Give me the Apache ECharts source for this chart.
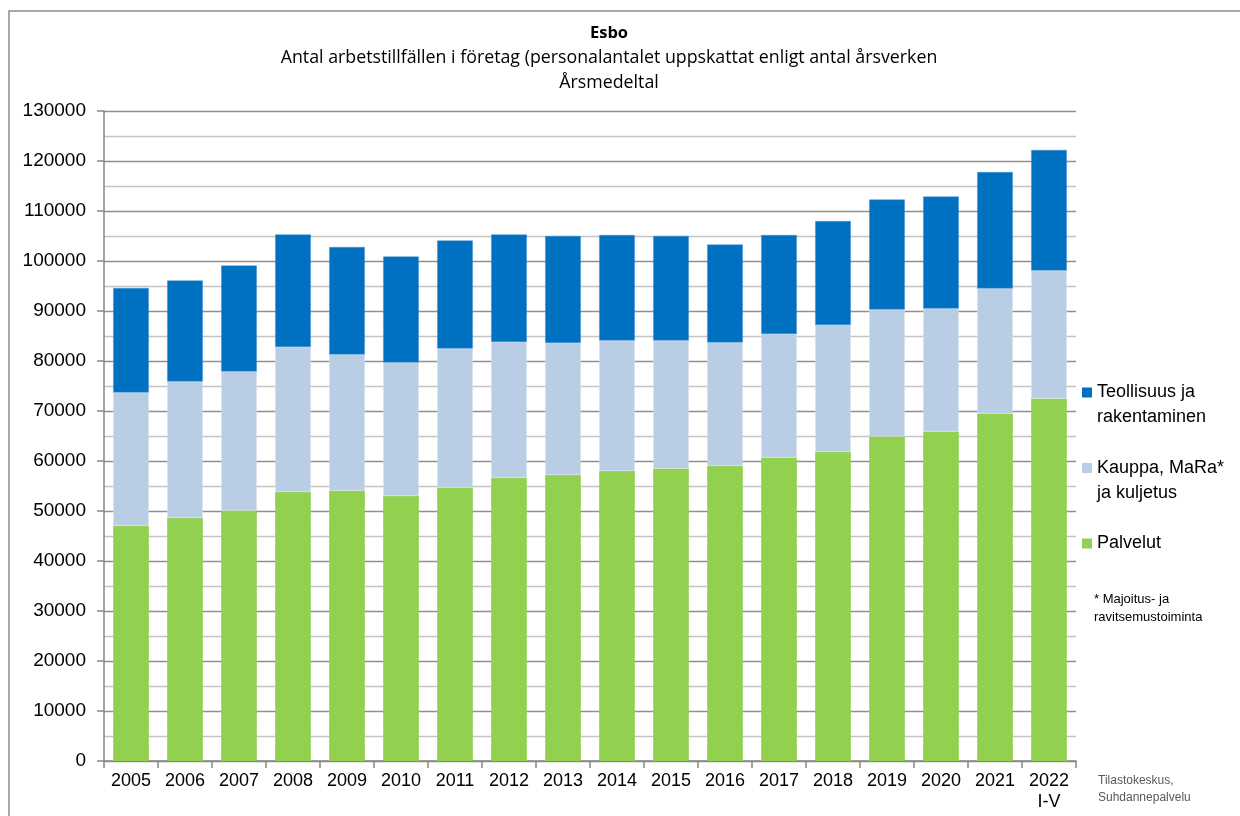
<!DOCTYPE html>
<html>
<head>
<meta charset="utf-8">
<title>Esbo</title>
<script src="https://cdn.jsdelivr.net/npm/echarts@6/dist/echarts.min.js"></script>
<style>
  html, body { margin: 0; padding: 0; background: #fff; }
  #chart { width: 1240px; height: 816px; }
</style>
</head>
<body>
<div id="chart"></div>
<script>
// data
const years = ['2005', '2006', '2007', '2008', '2009', '2010', '2011', '2012', '2013',
  '2014', '2015', '2016', '2017', '2018', '2019', '2020', '2021', '2022\nI-V'];
const palvelut = [47000, 48600, 50100, 53800, 54100, 53000, 54700, 56600, 57200,
  58000, 58500, 59000, 60700, 61800, 64900, 65900, 69500, 72500];
const kauppa = [26700, 27300, 27800, 29000, 27200, 26700, 27800, 27200, 26400,
  26100, 25600, 24700, 24700, 25400, 25400, 24600, 25000, 25600];
const teollisuus = [20900, 20200, 21200, 22500, 21500, 21200, 21600, 21500, 21400,
  21100, 20900, 19600, 19800, 20800, 22000, 22400, 23300, 24100];

const names = {
  teo: 'Teollisuus ja\nrakentaminen',
  kau: 'Kauppa, MaRa*\nja kuljetus',
  pal: 'Palvelut'
};

const arial = "'Liberation Sans', Arial, sans-serif";
const titleFont = "'Open Sans', 'Noto Sans', sans-serif";

// legend icon: 10x10 square on the first text line, box 50 high
const icon = 'path://M0,0h0 M0,7.5h10v10h-10z M0,50h0';

const chart = echarts.init(document.getElementById('chart'));

chart.setOption({
  animation: false,
  backgroundColor: '#fff',
  title: [
    {
      text: 'Esbo',
      subtext: 'Antal arbetstillfällen i företag (personalantalet uppskattat enligt antal årsverken\nÅrsmedeltal',
      left: 609,
      top: 23,
      textAlign: 'center',
      padding: 0,
      itemGap: 2,
      textStyle: { fontFamily: titleFont, fontSize: 16.5, fontWeight: 'bold', color: '#000', lineHeight: 20 },
      subtextStyle: { fontFamily: titleFont, fontSize: 17.8, color: '#000', lineHeight: 25 }
    },
    {
      text: '* Majoitus- ja\nravitsemustoiminta',
      left: 1094,
      top: 590,
      padding: 0,
      textStyle: { fontFamily: arial, fontSize: 13, fontWeight: 'normal', color: '#000', lineHeight: 18 }
    },
    {
      text: 'Tilastokeskus,\nSuhdannepalvelu',
      left: 1098,
      top: 772,
      padding: 0,
      textStyle: { fontFamily: arial, fontSize: 12, fontWeight: 'normal', color: '#595959', lineHeight: 17 }
    }
  ],
  legend: {
    orient: 'vertical',
    left: 1082,
    top: 380,
    padding: 0,
    itemWidth: 10,
    itemHeight: 50,
    itemGap: 25.5,
    selectedMode: false,
    icon: icon,
    itemStyle: { borderWidth: 0 },
    // single-line name gets an empty second line so it sits beside the square
    formatter: name => (name.indexOf('\n') < 0 ? name + '\n ' : name),
    textStyle: { fontFamily: arial, fontSize: 18, color: '#000', lineHeight: 25 },
    data: [names.teo, names.kau, names.pal]
  },
  graphic: [
    {
      type: 'rect',
      silent: true,
      shape: { x: 9, y: 11, width: 1300, height: 900 },
      style: { fill: 'none', stroke: '#8c8c8c', lineWidth: 1.5 }
    }
  ],
  grid: { left: 104, right: 164, top: 111, bottom: 55 },
  xAxis: {
    type: 'category',
    data: years,
    axisLine: { lineStyle: { color: '#868686', width: 1.5 } },
    axisTick: { show: true, alignWithLabel: false, length: 7, lineStyle: { color: '#868686', width: 1.5 } },
    axisLabel: { color: '#000', fontFamily: arial, fontSize: 18, margin: 10, lineHeight: 21, interval: 0 }
  },
  yAxis: {
    type: 'value',
    min: 0,
    max: 130000,
    interval: 10000,
    axisLine: { show: true, lineStyle: { color: '#868686', width: 1.5 } },
    axisTick: { show: true, length: 7, lineStyle: { color: '#868686', width: 1.5 } },
    axisLabel: { color: '#000', fontFamily: arial, fontSize: 19, margin: 18, formatter: v => String(v) },
    splitLine: { show: true, lineStyle: { color: '#8f8f8f', width: 1.3 } },
    minorTick: { show: false, splitNumber: 2 },
    minorSplitLine: { show: true, lineStyle: { color: '#c4c4c4', width: 1.3 } }
  },
  series: [
    {
      name: names.pal,
      type: 'bar',
      stack: 'total',
      barCategoryGap: '34%',
      data: palvelut,
      itemStyle: { color: '#92D050' }
    },
    {
      name: names.kau,
      type: 'bar',
      stack: 'total',
      data: kauppa,
      itemStyle: { color: '#B9CDE5', borderColor: '#DCE6F2', borderWidth: 0.5 }
    },
    {
      name: names.teo,
      type: 'bar',
      stack: 'total',
      data: teollisuus,
      itemStyle: { color: '#0070C0', borderColor: '#4A90D0', borderWidth: 0.5 }
    }
  ]
});
</script>
</body>
</html>
